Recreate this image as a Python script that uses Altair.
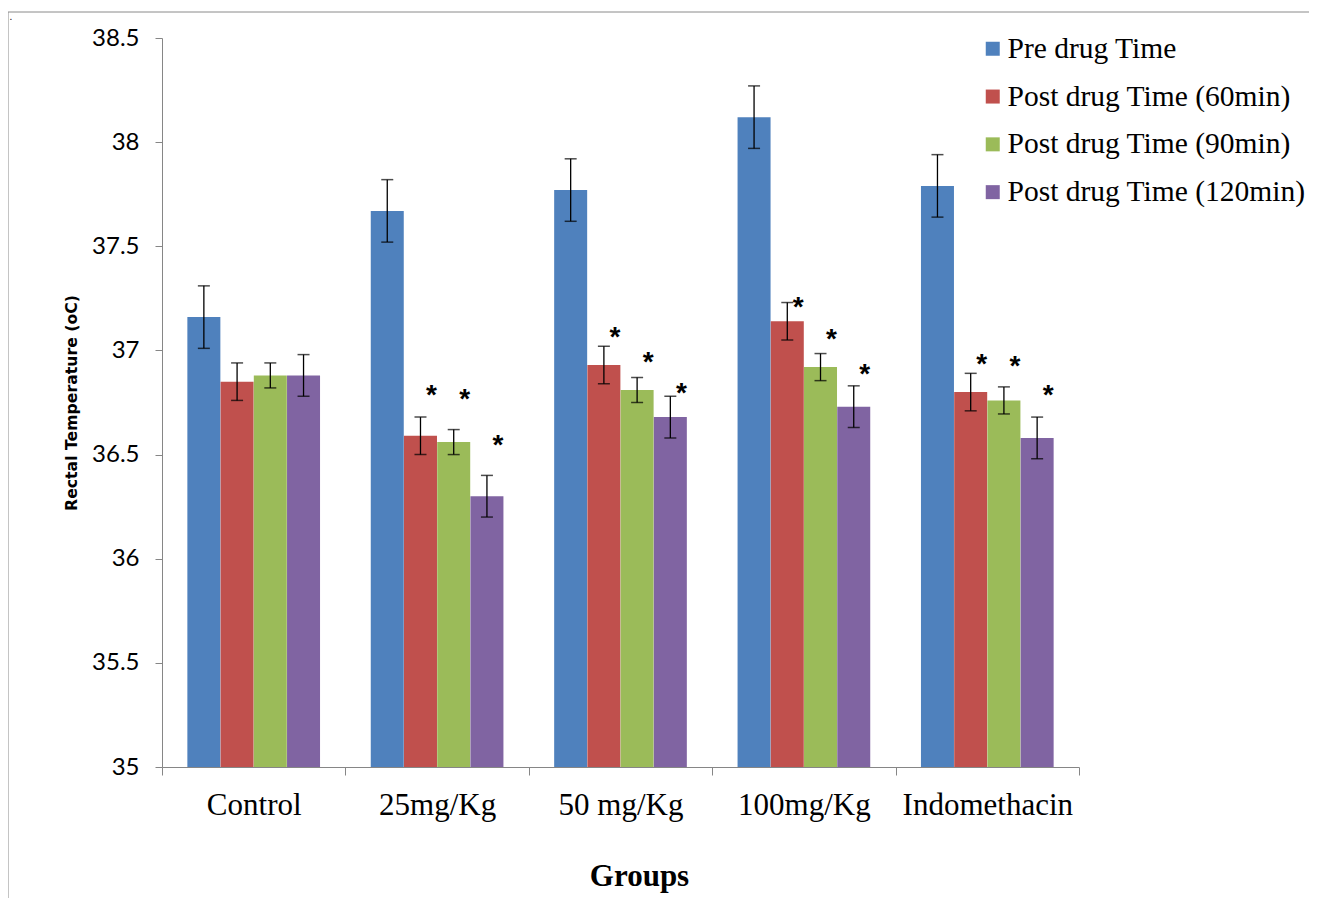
import altair as alt
import pandas as pd

groups = ["Control", "25mg/Kg", "50 mg/Kg", "100mg/Kg", "Indomethacin"]
series = ["Pre drug Time", "Post drug Time (60min)", "Post drug Time (90min)", "Post drug Time (120min)"]
colors = ["#4F81BD", "#C0504D", "#9BBB59", "#8064A2"]

pre_mean = [37.16, 37.67, 37.77, 38.12, 37.79]
pre_err = [0.15, 0.15, 0.15, 0.15, 0.15]
p60_mean = [36.85, 36.59, 36.93, 37.14, 36.80]
p60_err = [0.09, 0.09, 0.09, 0.09, 0.09]
p90_mean = [36.88, 36.56, 36.81, 36.92, 36.76]
p90_err = [0.06, 0.06, 0.06, 0.065, 0.065]
p120_mean = [36.88, 36.30, 36.68, 36.73, 36.58]
p120_err = [0.10, 0.10, 0.10, 0.10, 0.10]

# significance markers (group, series, height of asterisk in degrees)
star_group = ["25mg/Kg"] * 3 + ["50 mg/Kg"] * 3 + ["100mg/Kg"] * 3 + ["Indomethacin"] * 3
star_series = series[1:] * 4
star_y = [36.82, 36.80, 36.58, 37.10, 36.98, 36.83, 37.24, 37.09, 36.92, 36.97, 36.96, 36.82]

means = [pre_mean, p60_mean, p90_mean, p120_mean]
errs = [pre_err, p60_err, p90_err, p120_err]
rows = []
for s, m, e in zip(series, means, errs):
    for g, mv, ev in zip(groups, m, e):
        rows.append({"group": g, "series": s, "mean": mv, "lo": mv - ev, "hi": mv + ev})
df = pd.DataFrame(rows)
stars = pd.DataFrame({"group": star_group, "series": star_series, "y": star_y, "t": ["*"] * len(star_y)})

W, H = 917, 729
PL, PT = 154, 30

xenc = alt.X("group:N", sort=groups, scale=alt.Scale(paddingInner=0, paddingOuter=0),
             axis=alt.Axis(title="Groups", tickBand="extent", labelAngle=0,
                           labelFont="Liberation Serif", labelFontSize=31, labelColor="black",
                           labelPadding=15, domainColor="#868686", tickColor="#868686",
                           tickSize=8, titleFont="Liberation Serif", titleFontSize=31,
                           titleFontWeight="bold", titleColor="black", titlePadding=41,
                           titleX=477, titleAnchor="middle"))
xoff = alt.XOffset("series:N", sort=series, scale=alt.Scale(paddingInner=0, paddingOuter=0.76))
yscale = alt.Scale(domain=[35, 38.5], zero=False, nice=False)
yaxis = alt.Axis(title="Rectal Temperature (oC)", values=[35, 35.5, 36, 36.5, 37, 37.5, 38, 38.5],
                 format="~g", grid=False, labelFont="Lato", labelFontSize=24, labelColor="black",
                 labelPadding=16, domainColor="#868686", tickColor="#868686", tickSize=7,
                 titleFont="DejaVu Sans", titleFontSize=15.7, titleFontWeight="bold", titleColor="black",
                 titlePadding=12)

bars = alt.Chart(df).mark_bar(size=33).encode(
    x=xenc, xOffset=xoff,
    y=alt.Y("mean:Q", scale=yscale, axis=yaxis),
    y2=alt.datum(35),
    color=alt.Color("series:N", sort=series, scale=alt.Scale(domain=series, range=colors),
                    legend=alt.Legend(title=None, orient="none", legendX=816, legendY=-4,
                                      labelFont="Liberation Serif", labelFontSize=29.5,
                                      labelColor="black", symbolType="square", symbolSize=196,
                                      symbolStrokeWidth=0, rowPadding=16.8, labelOffset=0,
                                      padding=0, labelLimit=400)),
)

rules = alt.Chart(df).mark_rule(color="black", strokeWidth=1.3).encode(
    x=alt.X("group:N", sort=groups), xOffset=xoff,
    y=alt.Y("lo:Q", scale=yscale), y2="hi:Q",
)
caps_lo = alt.Chart(df).mark_tick(color="black", thickness=1.5, size=12).encode(
    x=alt.X("group:N", sort=groups), xOffset=xoff, y=alt.Y("lo:Q", scale=yscale),
)
caps_hi = alt.Chart(df).mark_tick(color="black", thickness=1.5, size=12).encode(
    x=alt.X("group:N", sort=groups), xOffset=xoff, y=alt.Y("hi:Q", scale=yscale),
)
star_text = alt.Chart(stars).mark_text(font="Liberation Sans", fontSize=28, fontWeight="bold",
                                       color="black", dx=11, dy=16, baseline="alphabetic").encode(
    x=alt.X("group:N", sort=groups), xOffset=alt.XOffset("series:N", sort=series),
    y=alt.Y("y:Q", scale=yscale), text="t:N",
)

frame_top = alt.Chart(pd.DataFrame({"a": [0]})).mark_rule(color="#8a8a8a", strokeWidth=1).encode(
    x=alt.value(-PL), x2=alt.value(1317 - 8 - PL), y=alt.value(-PT + 4))
frame_left = alt.Chart(pd.DataFrame({"a": [0]})).mark_rule(color="#8a8a8a", strokeWidth=1).encode(
    x=alt.value(-PL), y=alt.value(-PT + 4), y2=alt.value(906 - 8 - PT))
dot = alt.Chart(pd.DataFrame({"a": [0]})).mark_text(text=".", fontSize=10, color="black",
                                                    baseline="alphabetic").encode(
    x=alt.value(-PL + 3), y=alt.value(-PT + 12))

chart = alt.layer(bars, rules, caps_lo, caps_hi, star_text, frame_top, frame_left, dot).properties(
    width=W, height=H,
    autosize=alt.AutoSizeParams(type="none"),
    padding={"left": PL, "top": PT, "right": 1301 - PL - W, "bottom": 890 - PT - H},
).configure(background="white").configure_view(stroke=None)

chart.save("out.html", embed_options={"renderer": "svg", "actions": False})
